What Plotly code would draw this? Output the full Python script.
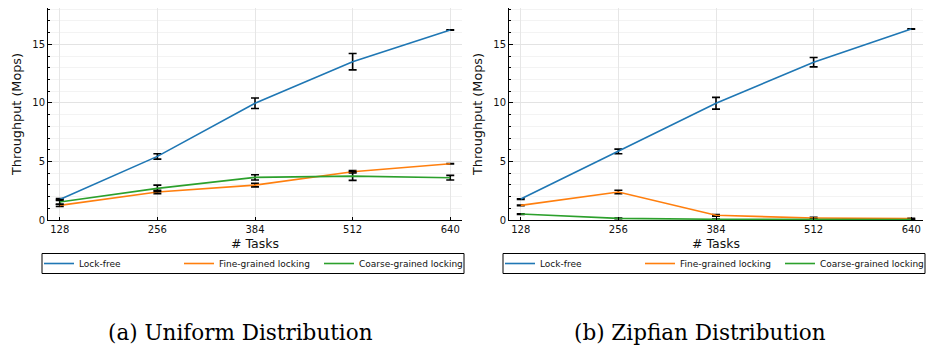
import plotly.graph_objects as go

tasks = [128, 256, 384, 512, 640]
series_names = ["Lock-free", "Fine-grained locking", "Coarse-grained locking"]
colors = ["#1f77b4", "#ff7f0e", "#2ca02c"]

# (a) Uniform distribution
uni_lockfree = [1.75, 5.43, 9.97, 13.52, 16.22]
uni_lockfree_err = [0.08, 0.23, 0.45, 0.70, 0.02]
uni_fine = [1.25, 2.39, 2.98, 4.12, 4.80]
uni_fine_err = [0.10, 0.15, 0.15, 0.10, 0.02]
uni_coarse = [1.53, 2.70, 3.64, 3.75, 3.61]
uni_coarse_err = [0.20, 0.28, 0.22, 0.37, 0.20]

# (b) Zipfian distribution
zipf_lockfree = [1.79, 5.85, 9.97, 13.47, 16.30]
zipf_lockfree_err = [0.03, 0.20, 0.50, 0.40, 0.02]
zipf_fine = [1.25, 2.39, 0.40, 0.17, 0.12]
zipf_fine_err = [0.03, 0.15, 0.07, 0.05, 0.03]
zipf_coarse = [0.51, 0.14, 0.06, 0.05, 0.03]
zipf_coarse_err = [0.03, 0.02, 0.02, 0.02, 0.02]

captions = ["(a) Uniform Distribution", "(b) Zipfian Distribution"]
x_title = "# Tasks"
y_title = "Throughput (Mops)"

W, H = 928, 348
fig = go.Figure()

panels = [
    ([uni_lockfree, uni_fine, uni_coarse], [uni_lockfree_err, uni_fine_err, uni_coarse_err], "x", "y", ["legend", "legend", "legend3"]),
    ([zipf_lockfree, zipf_fine, zipf_coarse], [zipf_lockfree_err, zipf_fine_err, zipf_coarse_err], "x2", "y2", ["legend2", "legend2", "legend4"]),
]
for vals, errs, xa, ya, legs in panels:
    for name, c, v, e, leg in zip(series_names, colors, vals, errs, legs):
        fig.add_trace(go.Scatter(
            x=tasks, y=v, name=name, mode="lines",
            line=dict(color=c, width=1.6),
            error_y=dict(type="data", array=e, visible=True, color="black", thickness=1.6, width=4),
            xaxis=xa, yaxis=ya, legend=leg,
        ))

def xax(domain):
    return dict(domain=domain, range=[112.6, 655.4], tickvals=tasks, ticks="inside", ticklen=3,
                tickcolor="black", showline=True, linecolor="black", linewidth=1, zeroline=False,
                showgrid=True, gridcolor="#e6e6e6", gridwidth=1, automargin=False,
                tickfont=dict(size=10, family="DejaVu Sans", color="#111"),
                title=dict(text=x_title, font=dict(size=12.5, family="DejaVu Sans", color="#111"), standoff=5))
def yax(anchor):
    return dict(domain=[128 / H, 340 / H], range=[0, 18.1], dtick=5, tick0=0, ticks="inside", ticklen=4,
                tickcolor="black", showline=True, linecolor="black", linewidth=1, zeroline=False,
                showgrid=True, gridcolor="#e3e3e3", gridwidth=1, anchor=anchor, automargin=False,
                minor=dict(dtick=1, ticks="inside", ticklen=2, tickcolor="black", showgrid=True, gridcolor="#f3f3f3"),
                tickfont=dict(size=10, family="DejaVu Sans", color="#111"),
                title=dict(text=y_title, font=dict(size=12.8, family="DejaVu Sans", color="#111"), standoff=7))

fig.update_layout(
    width=W, height=H, margin=dict(l=0, r=0, t=0, b=0, autoexpand=False),
    plot_bgcolor="white", paper_bgcolor="white",
    xaxis=dict(**xax([48 / W, 462 / W]), anchor="y"),
    yaxis=yax("x"),
    xaxis2=dict(**xax([509 / W, 923 / W]), anchor="y2"),
    yaxis2=yax("x2"),
)
leg_common = dict(orientation="h", xanchor="left", y=(H - 263.5) / H, yanchor="middle",
                  borderwidth=0, bgcolor="rgba(0,0,0,0)",
                  font=dict(size=9, family="DejaVu Sans", color="#111"), itemwidth=30)
for key, key3, x0 in (("legend", "legend3", 42), ("legend2", "legend4", 503)):
    fig.update_layout({
        key: dict(x=(x0 - 3) / W, entrywidth=95, entrywidthmode="pixels", **leg_common),
        key3: dict(x=(x0 - 3 + 280) / W, **leg_common),
    })
    fig.add_shape(type="rect", xref="paper", yref="paper",
                  x0=x0 / W, x1=(x0 + 422) / W, y0=(H - 273.5) / H, y1=(H - 253.5) / H,
                  line=dict(color="black", width=1), fillcolor="rgba(0,0,0,0)", layer="below")

for text, cx in zip(captions, [240, 700]):
    fig.add_annotation(text=text, x=cx / W, y=(H - 332) / H, xref="paper", yref="paper",
                       showarrow=False, xanchor="center", yanchor="middle",
                       font=dict(size=21.5, family="DejaVu Serif", color="black"))

fig.write_html("out.html", config={"displayModeBar": False},
               post_script="document.body.style.margin='0';document.body.style.overflow='hidden';")
